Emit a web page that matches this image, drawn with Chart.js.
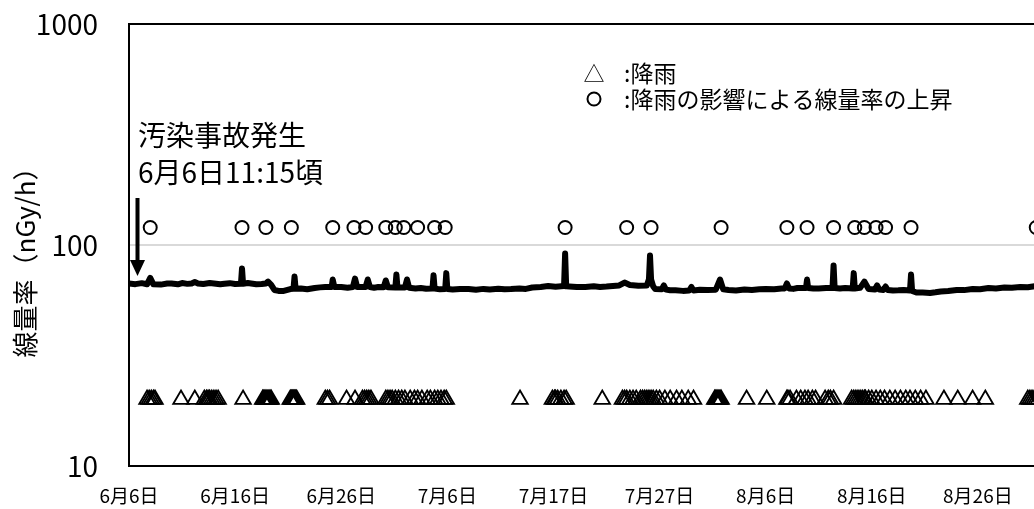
<!DOCTYPE html>
<html lang="ja">
<head>
<meta charset="utf-8">
<title>線量率の推移</title>
<script src="https://cdn.jsdelivr.net/npm/chart.js@4/dist/chart.umd.min.js"></script>
<style>
  html, body { margin: 0; padding: 0; background: #fff; overflow: hidden; }
  #wrap { width: 1110px; height: 509px; }
</style>
</head>
<body>
<div id="wrap"><canvas id="chart" width="1110" height="509"></canvas></div>
<script>
// x values are days after 6月6日 (0 = 6月6日)
const tickLabels = ['6月6日', '6月16日', '6月26日', '7月6日', '7月17日', '7月27日', '8月6日', '8月16日', '8月26日'];

// dose rate (nGy/h)
const doseDays = [
  0.0, 0.6, 1.2, 1.7, 2.0, 2.3, 3.0, 3.6, 4.0, 4.6, 5.0, 5.5, 5.9, 6.2, 6.5, 7.0, 7.6, 8.0, 8.6, 9.0, 9.5, 10.0,
  10.55, 10.65, 10.75, 11.2, 11.5, 12.0, 12.5, 12.9, 13.1, 13.4, 13.7, 14.1, 14.5, 15.2, 15.5, 15.6, 15.7,
  16.2, 16.8, 17.5, 18.0, 18.5, 19.1, 19.2, 19.35, 20.0, 20.6, 21.1, 21.3, 21.5, 22.3, 22.5, 22.7, 23.1, 23.5,
  24.0, 24.2, 24.4, 25.1, 25.2, 25.3, 26.0, 26.2, 26.4, 27.0, 27.5, 28.0, 28.6, 28.7, 28.8, 29.3, 29.8,
  29.9, 30.0, 30.5, 31.2, 32.0, 32.7, 33.4, 34.0, 34.8, 35.4, 36.0, 36.8, 37.4, 38.0, 38.8, 39.5, 40.2, 41.0, 41.1, 41.2,
  41.5, 42.2, 43.0, 43.8, 44.4, 45.0, 45.6,
  46.2, 46.7, 47.2, 48.0, 48.8, 49.0, 49.1, 49.2, 49.4, 49.6, 50.2, 50.4, 50.6, 51.0, 51.5, 52.2, 52.8,
  53.0, 53.2, 53.8, 54.5, 55.3, 55.7, 56.0, 56.5, 57.2, 58.0, 58.7, 59.4, 60.0, 60.8, 61.5, 61.8, 62.0, 62.2, 62.6, 63.0,
  63.8, 63.9, 64.0, 64.5, 65.0, 65.7, 66.3, 66.4, 66.5, 67.0, 67.5, 68.2, 68.3, 68.4, 68.9, 69.3, 69.7,
  70.3, 70.5, 70.7, 71.1, 71.3, 71.5, 72.0, 72.5, 73.0, 73.6, 73.7, 73.8, 74.2, 74.8, 75.5, 76.0, 76.5, 77.2, 78.0,
  78.7, 79.5, 80.2, 81.0, 81.7, 82.5, 83.2, 84.0, 84.7, 85.5, 86.2, 87.0, 87.7, 88.5, 89.2, 90.0
];
const doseValues = [
  67.0, 66.5, 67.2, 66.4, 71.0, 66.4, 66.2, 66.9, 67.0, 66.4, 67.3, 66.7, 67.0, 68.0, 67.0, 66.6, 67.3, 67.0, 66.4, 66.8, 67.2, 66.6,
  66.8, 78.3, 66.8, 67.3, 67.0, 66.5, 66.6, 67.0, 68.3, 66.0, 62.6, 62.0, 61.9, 63.2, 63.4, 72.1, 63.4,
  63.6, 63.1, 63.9, 64.3, 64.6, 64.6, 69.8, 64.6, 64.6, 64.1, 64.6, 70.5, 64.6, 64.6, 69.8, 64.6, 64.1, 64.6,
  64.4, 69.1, 64.4, 64.3, 73.5, 64.3, 64.2, 69.8, 64.0, 63.5, 63.9, 63.4, 63.5, 72.9, 63.5, 63.0, 63.2,
  74.6, 63.2, 62.9, 63.3, 63.2, 62.8, 63.3, 62.9, 63.4, 63.0, 63.2, 63.6, 63.3, 64.2, 64.6, 65.2, 64.8, 65.2, 91.5, 65.0,
  64.9, 64.5, 64.6, 65.0, 64.6, 64.9, 65.3,
  65.6, 67.6, 65.9, 65.4, 65.6, 70.0, 89.6, 70.0, 65.0, 63.2, 63.0, 65.6, 62.8, 62.4, 62.4, 62.0, 62.2,
  64.6, 62.2, 62.7, 62.6, 62.8, 69.8, 63.0, 62.6, 62.2, 62.9, 62.6, 63.0, 63.2, 63.0, 63.6, 63.6, 67.0, 63.6, 63.3, 63.9,
  63.9, 69.8, 63.9, 63.5, 63.6, 63.9, 63.9, 80.8, 63.9, 63.5, 63.9, 63.6, 74.6, 63.6, 64.0, 68.3, 63.2,
  62.9, 65.6, 62.9, 62.6, 64.9, 62.6, 62.3, 62.4, 62.6, 62.2, 73.5, 62.0, 61.0, 60.9, 60.7, 61.1, 61.6, 61.9, 62.6,
  62.5, 63.2, 63.1, 63.9, 63.6, 64.2, 64.0, 64.6, 64.4, 65.2, 64.9, 65.6, 65.3, 65.9, 65.7, 66.2
];

// ○ : rise of dose rate caused by rain (plotted at a fixed level)
const riseLevel = 120;
const riseDays = [
  2.0, 10.65, 12.9, 15.3, 19.2, 21.2, 22.3, 24.2, 25.1, 25.9, 27.2, 28.8, 29.8,
  41.1, 46.9, 49.2, 55.8, 62.0, 63.9, 66.4, 68.4, 69.3, 70.4, 71.3, 73.7, 85.5
];

// △ : rain (plotted at a fixed level)
const rainLevel = 20;
const rainDays = [
  1.7, 1.9, 2.1, 2.3, 2.45,
  4.9, 6.2, 7.1, 7.3, 7.45, 7.6, 7.8, 8.0, 8.2, 8.4,
  10.75,
  12.6, 12.7, 12.8, 12.9, 13.0, 13.1, 13.2, 13.3, 13.4,
  15.2, 15.3, 15.4, 15.5, 15.6, 15.7, 15.8,
  18.5, 18.7, 18.9, 20.5, 21.3, 22.0, 22.2, 22.4, 22.6, 22.8,
  24.2, 24.4, 24.6, 24.8, 25.1, 25.4, 25.7, 26.0, 26.5, 26.9, 27.2, 27.6, 28.1, 28.4,
  28.8, 29.1, 29.4, 29.7, 29.9,
  36.85,
  39.9, 40.1, 40.2, 40.4, 40.7, 41.0, 41.2,
  44.6,
  46.5, 46.7, 46.9, 47.2, 47.5, 47.8, 48.2, 48.4, 48.6, 48.8, 49.0, 49.2, 49.4, 49.7,
  50.0, 50.5, 51.0, 51.6, 52.1, 52.7, 53.2,
  55.2, 55.3, 55.4, 55.5, 55.6, 55.7, 55.8,
  58.2, 60.1,
  62.0, 62.1, 62.3, 62.9, 63.3, 63.7, 64.0, 64.4, 64.7, 65.6, 65.9, 66.1, 66.4,
  68.1, 68.3, 68.5, 68.7, 68.9, 69.1, 69.3, 69.4, 69.7, 70.0, 70.4, 70.8, 71.2, 71.7,
  72.2, 72.7, 73.2, 73.6, 74.1, 74.6, 75.1,
  76.8, 78.1, 79.5, 80.7,
  84.7, 84.9, 85.1, 85.3, 85.5, 85.7
];

const FONT = "'Noto Sans CJK JP', 'Noto Sans', sans-serif";

// frame, annotation, legend text and y title
const overlayPlugin = {
  id: 'overlay',
  beforeDatasetsDraw(chart) {
    const {ctx, chartArea: a} = chart;
    ctx.save();
    ctx.strokeStyle = '#000';
    ctx.lineWidth = 2;
    ctx.strokeRect(a.left, a.top, a.right - a.left, a.bottom - a.top);
    ctx.restore();
  },
  afterDraw(chart) {
    const {ctx, scales: {x}} = chart;
    ctx.save();
    ctx.fillStyle = '#000';

    // y axis title
    ctx.save();
    ctx.translate(25, 256);
    ctx.rotate(-Math.PI / 2);
    ctx.font = '26px ' + FONT;
    ctx.textAlign = 'center';
    ctx.textBaseline = 'middle';
    ctx.fillText('線量率（nGy/h）', 0, 0);
    ctx.restore();

    // accident annotation + arrow
    const x0 = x.getPixelForValue(0);
    ctx.textAlign = 'left';
    ctx.textBaseline = 'middle';
    ctx.font = '28px ' + FONT;
    ctx.fillText('汚染事故発生', x0 + 9, 135);
    ctx.fillText('6月6日11:15頃', x0 + 9, 172);

    const ax = x0 + 8.5;
    ctx.fillRect(ax - 2, 198, 4, 64);
    ctx.beginPath();
    ctx.moveTo(ax - 7.5, 260);
    ctx.lineTo(ax + 7.5, 260);
    ctx.lineTo(ax, 276);
    ctx.closePath();
    ctx.fill();

    // legend
    ctx.font = '21px ' + FONT;
    ctx.textAlign = 'center';
    ctx.fillText('△', 594, 73);
    ctx.lineWidth = 2;
    ctx.beginPath();
    ctx.arc(594, 99, 6.5, 0, Math.PI * 2);
    ctx.stroke();
    ctx.font = '23px ' + FONT;
    ctx.textAlign = 'left';
    ctx.fillText(':降雨', 624, 73);
    ctx.fillText(':降雨の影響による線量率の上昇', 624, 99);
    ctx.restore();
  }
};

new Chart(document.getElementById('chart').getContext('2d'), {
  type: 'scatter',
  data: {
    datasets: [
      {
        label: '線量率',
        data: doseDays.map((d, i) => ({x: d, y: doseValues[i]})),
        showLine: true,
        borderColor: '#000',
        borderWidth: 6,
        borderJoinStyle: 'round',
        borderCapStyle: 'round',
        pointRadius: 0,
        tension: 0
      },
      {
        label: '降雨の影響による線量率の上昇',
        data: riseDays.map(d => ({x: d, y: riseLevel})),
        pointStyle: 'circle',
        pointRadius: 6.5,
        borderWidth: 2,
        borderColor: '#000',
        backgroundColor: 'rgba(0,0,0,0)'
      },
      {
        label: '降雨',
        data: rainDays.map(d => ({x: d, y: rainLevel})),
        pointStyle: 'triangle',
        pointRadius: 9,
        borderWidth: 1.8,
        borderColor: '#000',
        backgroundColor: 'rgba(0,0,0,0)'
      }
    ]
  },
  options: {
    responsive: false,
    animation: false,
    layout: { padding: { left: 0, right: 26, top: 24, bottom: 0 } },
    plugins: {
      legend: { display: false },
      tooltip: { enabled: false }
    },
    scales: {
      x: {
        type: 'linear',
        min: 0,
        max: 90,
        border: { display: false },
        grid: { display: false, drawTicks: false },
        afterFit: s => { s.height = 43; },
        afterBuildTicks: s => {
          s.ticks = tickLabels.map((_, i) => ({value: i * 10}));
        },
        ticks: {
          autoSkip: false,
          maxRotation: 0,
          padding: 18,
          color: '#000',
          font: { family: FONT, size: 19 },
          callback: v => tickLabels[Math.round(v / 10)] || ''
        }
      },
      y: {
        type: 'logarithmic',
        min: 10,
        max: 1000,
        border: { display: false },
        grid: {
          drawTicks: false,
          lineWidth: 2,
          color: c => (c.tick && c.tick.value === 100 ? '#d9d9d9' : 'rgba(0,0,0,0)')
        },
        afterFit: s => {
          s.width = 129;
          s.paddingTop = 0;
          s.paddingBottom = 0;
        },
        afterBuildTicks: s => {
          s.ticks = [{value: 10}, {value: 100}, {value: 1000}];
        },
        ticks: {
          padding: 31,
          color: '#000',
          font: { family: FONT, size: 28 },
          callback: v => String(v)
        }
      }
    }
  },
  plugins: [overlayPlugin]
});
</script>
</body>
</html>
